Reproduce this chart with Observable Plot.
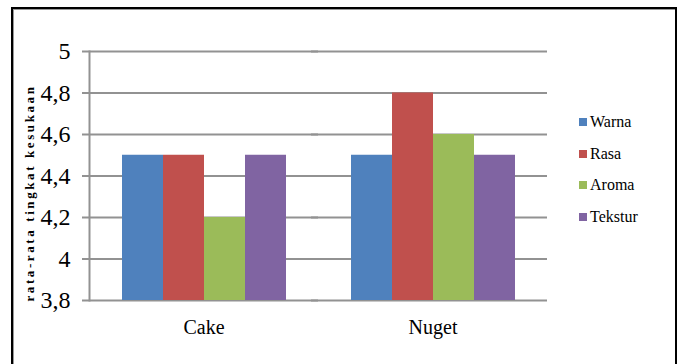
<!DOCTYPE html>
<html>
<head>
<meta charset="utf-8">
<script src="https://cdn.jsdelivr.net/npm/d3@7"></script>
<script src="https://cdn.jsdelivr.net/npm/@observablehq/plot@0.6"></script>
<style>
  html, body { margin: 0; padding: 0; background: #fff; font-family: 'Times New Roman', 'Liberation Serif', Tinos, serif; }
  svg text, svg g { font-family: 'Times New Roman', 'Liberation Serif', Tinos, serif !important; }
</style>
</head>
<body>
<div id="wrap" style="position:relative;width:681px;height:364px;overflow:hidden;">
  <div id="chart" style="position:absolute;left:0;top:0;"></div>
  <div id="ytitle" style="position:absolute;left:30px;top:193px;transform:translate(-50%,-50%) rotate(-90deg);white-space:nowrap;font-weight:bold;font-size:13px;letter-spacing:2.6px;color:#000;"></div>
  <div id="legend" style="position:absolute;left:579px;top:106px;font-size:16px;color:#000;"></div>
  <div id="border" style="position:absolute;left:11px;top:7px;width:662px;height:420px;border:2px solid #000;border-bottom:none;box-shadow:inset 1px 1px 0 #999;z-index:3;pointer-events:none;"></div>
</div>
<script>
const categories = ["Cake", "Nuget"];
const series = ["Warna", "Rasa", "Aroma", "Tekstur"];
const colors = ["#4F81BD", "#C0504D", "#9BBB59", "#8064A2"];
const cakeValues = [4.5, 4.5, 4.2, 4.5];
const nugetValues = [4.5, 4.8, 4.6, 4.5];
const yTicks = [3.8, 4, 4.2, 4.4, 4.6, 4.8, 5];
const yTitle = "rata-rata tingkat kesukaan";

const valuesByCategory = [cakeValues, nugetValues];
const data = [];
categories.forEach((c, ci) => series.forEach((s, si) => data.push({category: c, series: s, value: valuesByCategory[ci][si]})));

const fmt = d => String(d).replace(".", ",");
const gridColor = "#929292";
const serifFont = "'Times New Roman', 'Liberation Serif', Tinos, serif";

const chart = Plot.plot({
  width: 681,
  height: 364,
  marginLeft: 89,
  marginRight: 134,
  marginTop: 51,
  marginBottom: 64,
  style: {fontFamily: serifFont},
  fx: {domain: categories, padding: 0},
  x: {domain: series, paddingInner: 0, paddingOuter: 0.76, axis: null},
  y: {domain: [yTicks[0], yTicks[yTicks.length - 1]]},
  color: {domain: series, range: colors},
  marks: [
    Plot.ruleY(yTicks, {stroke: gridColor, strokeWidth: 2, insetLeft: -7}),
    Plot.frame({anchor: "left", stroke: gridColor, strokeWidth: 2, facetAnchor: "left"}),
    Plot.barY(data, {fx: "category", x: "series", y1: yTicks[0], y2: "value", fill: "series"}),
    Plot.axisY({ticks: yTicks, tickFormat: fmt, tickSize: 0, tickPadding: 19, fontSize: 24, label: null, fill: "#000"}),
    Plot.axisFx({anchor: "bottom", tickSize: 0, tickPadding: 19, fontSize: 20, label: null, fill: "#000"})
  ]
});
chart.setAttribute("font-family", serifFont);
document.getElementById("chart").appendChild(chart);

document.getElementById("ytitle").textContent = yTitle;

const legend = document.getElementById("legend");
series.forEach((s, i) => {
  const row = document.createElement("div");
  row.style.cssText = "display:flex;align-items:center;height:31.7px;";
  const sw = document.createElement("div");
  sw.style.cssText = "width:8px;height:8px;margin-right:3px;background:" + colors[i];
  const lab = document.createElement("span");
  lab.textContent = s;
  row.appendChild(sw);
  row.appendChild(lab);
  legend.appendChild(row);
});
</script>
</body>
</html>
